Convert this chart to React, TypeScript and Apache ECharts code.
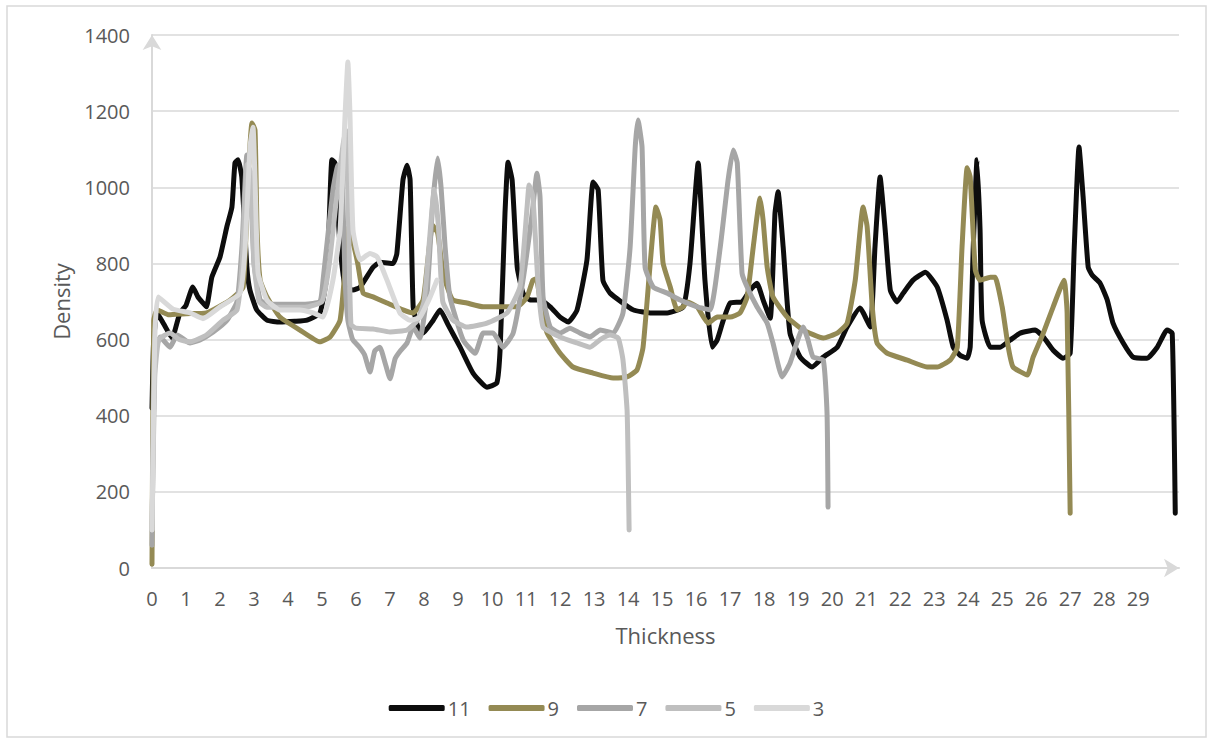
import React, { useEffect, useRef } from "react";
import * as echarts from "echarts";

const seriesNames = ["11", "9", "7", "5", "3"];
const seriesColors = ["#0d0d0d", "#948a54", "#a6a6a6", "#bfbfbf", "#d9d9d9"];

// [thickness, density]
const density11: [number, number][] = [
  [0, 420], [0.05, 600], [0.15, 670], [0.35, 640], [0.59, 604], [0.82, 670], [1.0, 690], [1.2, 738],
  [1.35, 712], [1.47, 699], [1.6, 686], [1.76, 764], [2.0, 817], [2.2, 896], [2.35, 948], [2.44, 1064],
  [2.53, 1072], [2.64, 1027], [2.79, 790], [2.88, 730], [3.08, 678], [3.38, 651], [3.76, 646], [4.2, 648],
  [4.56, 651], [4.94, 670], [5.15, 775], [5.29, 1072], [5.38, 1064], [5.53, 843], [5.68, 738], [5.91, 730],
  [6.12, 738], [6.5, 790], [6.7, 803], [7.09, 800], [7.2, 826], [7.38, 1019], [7.5, 1058], [7.59, 1019],
  [7.68, 686], [7.82, 633], [7.97, 617], [8.27, 651], [8.47, 678], [8.7, 640], [9.06, 580], [9.44, 512],
  [9.85, 475], [10.14, 486], [10.24, 580], [10.38, 932], [10.47, 1066], [10.59, 1019], [10.74, 790],
  [10.91, 722], [11.12, 704], [11.41, 704], [11.71, 686], [12.0, 659], [12.24, 646], [12.5, 678],
  [12.79, 809], [12.97, 1014], [13.12, 993], [13.26, 756], [13.47, 722], [14.15, 678], [14.65, 670],
  [15.15, 670], [15.62, 686], [15.82, 800], [16.06, 1064], [16.26, 756], [16.47, 580], [16.62, 599],
  [16.8, 651], [17.0, 696], [17.35, 699], [17.59, 730], [17.79, 748], [17.97, 704], [18.18, 656],
  [18.32, 932], [18.41, 988], [18.56, 843], [18.76, 617], [19.06, 554], [19.41, 528], [19.74, 554],
  [20.15, 580], [20.44, 633], [20.82, 683], [21.12, 633], [21.26, 843], [21.41, 1027], [21.56, 888],
  [21.71, 730], [21.91, 699], [22.09, 722], [22.38, 756], [22.74, 777], [23.09, 738], [23.38, 651],
  [23.56, 580], [23.76, 559], [23.97, 551], [24.06, 580], [24.15, 843], [24.26, 1072], [24.35, 888],
  [24.41, 651], [24.65, 580], [24.94, 580], [25.24, 599], [25.53, 617], [25.97, 625], [26.21, 607],
  [26.5, 572], [26.79, 551], [27.0, 564], [27.12, 843], [27.26, 1106], [27.38, 975], [27.53, 790],
  [27.65, 769], [27.88, 748], [28.09, 704], [28.26, 643], [28.56, 591], [28.85, 554], [29.26, 551],
  [29.56, 580], [29.85, 625], [30.0, 617], [30.09, 144],
];

const density9: [number, number][] = [
  [0, 10], [0.05, 650], [0.15, 678], [0.5, 665], [1.0, 668], [1.6, 670], [2.3, 704], [2.68, 738],
  [2.82, 1019], [2.94, 1169], [3.03, 1150], [3.09, 888], [3.18, 756], [3.38, 712], [3.76, 659],
  [4.35, 625], [4.94, 594], [5.24, 607], [5.53, 651], [5.68, 790], [5.76, 893], [5.91, 854], [6.05, 800],
  [6.21, 722], [6.5, 712], [6.91, 696], [7.38, 678], [7.68, 670], [7.97, 704], [8.09, 790], [8.25, 900],
  [8.4, 880], [8.55, 780], [8.68, 738], [8.85, 704], [9.26, 696], [9.74, 686], [10.24, 686], [10.74, 686],
  [11.03, 712], [11.2, 756], [11.3, 760], [11.45, 680], [11.62, 617], [12.0, 564], [12.38, 528],
  [12.97, 512], [13.56, 499], [13.97, 502], [14.26, 520], [14.44, 580], [14.65, 800], [14.82, 948],
  [14.94, 914], [15.03, 800], [15.24, 738], [15.44, 678], [15.62, 686], [15.74, 699], [16.03, 686],
  [16.35, 643], [16.62, 659], [17.0, 659], [17.29, 670], [17.5, 712], [17.68, 843], [17.88, 972],
  [17.97, 914], [18.09, 790], [18.26, 712], [18.68, 659], [19.15, 625], [19.74, 604], [20.15, 617],
  [20.44, 643], [20.68, 756], [20.91, 948], [21.03, 896], [21.18, 686], [21.32, 591], [21.62, 564],
  [22.21, 546], [22.79, 528], [23.09, 528], [23.47, 546], [23.68, 580], [23.82, 843], [23.97, 1051],
  [24.06, 1027], [24.21, 783], [24.35, 756], [24.65, 764], [24.79, 764], [25.0, 686], [25.18, 580],
  [25.32, 528], [25.74, 507], [25.91, 554], [26.21, 617], [26.5, 686], [26.82, 756], [26.91, 670],
  [27.0, 144],
];

const density7: [number, number][] = [
  [0, 60], [0.08, 560], [0.24, 607], [0.53, 580], [0.74, 612], [1.12, 591], [1.41, 599], [1.8, 620],
  [2.2, 650], [2.5, 700], [2.65, 850], [2.79, 1085], [2.9, 1000], [3.0, 800], [3.18, 704], [3.38, 693],
  [3.8, 693], [4.5, 693], [4.94, 700], [5.03, 756], [5.32, 993], [5.47, 1058], [5.59, 1019], [5.68, 756],
  [5.76, 651], [5.9, 600], [6.1, 580], [6.25, 560], [6.41, 515], [6.55, 570], [6.7, 580], [6.85, 540],
  [7.0, 497], [7.15, 550], [7.3, 570], [7.5, 591], [7.68, 633], [7.88, 604], [8.09, 722], [8.25, 950],
  [8.4, 1077], [8.5, 1000], [8.62, 843], [8.76, 712], [9.15, 599], [9.5, 564], [9.74, 617], [10.03, 617],
  [10.32, 580], [10.62, 617], [10.91, 756], [11.18, 932], [11.32, 1037], [11.41, 975], [11.5, 712],
  [11.71, 633], [12.0, 617], [12.29, 630], [12.59, 617], [12.88, 607], [13.18, 625], [13.56, 617],
  [13.85, 670], [14.06, 843], [14.21, 1106], [14.29, 1177], [14.41, 1106], [14.5, 790], [14.74, 738],
  [15.15, 722], [15.53, 704], [16.03, 686], [16.41, 678], [16.71, 843], [16.94, 1019], [17.09, 1098],
  [17.21, 1064], [17.35, 775], [17.5, 738], [17.79, 686], [18.09, 643], [18.26, 591], [18.53, 502],
  [18.76, 538], [19.15, 633], [19.29, 599], [19.44, 554], [19.74, 546], [19.85, 407], [19.88, 160],
];

const density5: [number, number][] = [
  [0, 100], [0.08, 500], [0.2, 600], [0.53, 617], [0.8, 600], [1.12, 594], [1.6, 612], [2.09, 651],
  [2.5, 678], [2.65, 800], [2.8, 1060], [2.9, 1040], [3.0, 800], [3.15, 700], [3.38, 685], [4.5, 685],
  [5.0, 700], [5.2, 790], [5.4, 950], [5.6, 1100], [5.7, 1150], [5.78, 900], [5.85, 640], [6.0, 630],
  [6.5, 628], [7.0, 620], [7.5, 625], [7.8, 650], [8.0, 700], [8.15, 850], [8.3, 995], [8.42, 900],
  [8.55, 700], [8.85, 651], [9.26, 633], [9.85, 643], [10.44, 670], [10.82, 738], [11.03, 948],
  [11.09, 1006], [11.2, 975], [11.35, 750], [11.5, 633], [12.0, 607], [12.5, 591], [12.88, 580],
  [13.18, 600], [13.47, 612], [13.71, 604], [13.85, 546], [13.97, 415], [14.0, 284], [14.03, 100],
];

const density3: [number, number][] = [
  [0, 100], [0.08, 600], [0.18, 712], [0.62, 680], [1.12, 670], [1.5, 655], [2.0, 686], [2.59, 722],
  [2.74, 843], [2.88, 1106], [2.97, 1158], [3.03, 1019], [3.12, 775], [3.38, 704], [3.76, 678],
  [4.35, 678], [4.74, 670], [5.03, 659], [5.32, 756], [5.53, 888], [5.68, 1195], [5.76, 1329],
  [5.82, 1195], [5.91, 888], [6.12, 809], [6.41, 826], [6.62, 817], [6.91, 756], [7.29, 670],
  [7.59, 651], [7.88, 659], [8.18, 712], [8.38, 756],
];

const allData = [density11, density9, density7, density5, density3];

const yTicks = { min: 0, max: 1400, interval: 200 };
const xRange = { min: 0, max: 30.2, interval: 1, lastLabel: 29 };

const FONT = "Open Sans";
const TEXT = "#595959";
const LINE = "#d9d9d9";

export default function App() {
  const ref = useRef<HTMLDivElement>(null);
  useEffect(() => {
    if (!ref.current) return;
    const chart = echarts.init(ref.current, undefined, { renderer: "svg" });
    chart.setOption({
      animation: false,
      backgroundColor: "#ffffff",
      textStyle: { fontFamily: FONT },
      graphic: [
        {
          type: "rect",
          shape: { x: 7, y: 6, width: 1199, height: 731 },
          style: { fill: "none", stroke: LINE, lineWidth: 1.5 },
          silent: true,
        },
      ],
      grid: { left: 152, right: 34, top: 35, bottom: 174 },
      legend: {
        data: seriesNames,
        top: 693,
        left: "center",
        icon: "roundRect",
        itemWidth: 56,
        itemHeight: 6,
        itemGap: 18,
        textStyle: { fontSize: 20, color: TEXT, fontFamily: FONT, padding: [0, 0, 0, -2] },
      },
      xAxis: {
        type: "value",
        min: xRange.min,
        max: xRange.max,
        interval: xRange.interval,
        name: "Thickness",
        nameLocation: "middle",
        nameGap: 56,
        nameTextStyle: { fontSize: 22, color: TEXT, fontFamily: FONT },
        axisLine: {
          show: true,
          lineStyle: { color: LINE, width: 2 },
          symbol: ["none", "arrow"],
          symbolSize: [14, 15],
        },
        axisTick: { show: false },
        splitLine: { show: false },
        axisLabel: {
          fontSize: 20,
          color: TEXT,
          fontFamily: FONT,
          margin: 20,
          showMaxLabel: true,
          formatter: (v: number) => (v <= xRange.lastLabel ? String(Math.round(v)) : ""),
        },
      },
      yAxis: {
        type: "value",
        min: yTicks.min,
        max: yTicks.max,
        interval: yTicks.interval,
        name: "Density",
        nameLocation: "middle",
        nameGap: 80,
        nameTextStyle: { fontSize: 22, color: TEXT, fontFamily: FONT },
        axisLine: {
          show: true,
          lineStyle: { color: LINE, width: 2 },
          symbol: ["none", "arrow"],
          symbolSize: [14, 15],
        },
        axisTick: { show: false },
        splitLine: { show: true, lineStyle: { color: LINE, width: 1.5 } },
        axisLabel: {
          fontSize: 20,
          color: TEXT,
          fontFamily: FONT,
          margin: 22,
          formatter: (v: number) => String(v),
        },
      },
      series: allData.map((d, i) => ({
        name: seriesNames[i],
        type: "line",
        data: d,
        showSymbol: false,
        symbol: "none",
        smooth: 0.15,
        color: seriesColors[i],
        lineStyle: { color: seriesColors[i], width: 5, cap: "round", join: "round" },
        z: 2 + i,
      })),
    });
    return () => chart.dispose();
  }, []);
  return (
    <div
      ref={ref}
      style={{ position: "absolute", left: 0, top: 0, width: 1213, height: 742, background: "#fff" }}
    />
  );
}
